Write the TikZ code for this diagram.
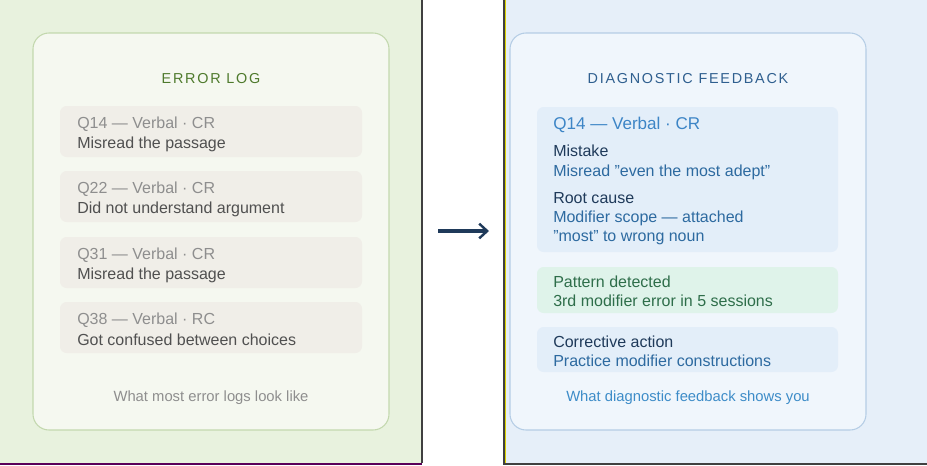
\documentclass[tikz,border=0pt]{standalone}
\usepackage{fontspec}
\usetikzlibrary{arrows.meta}
\setmainfont{Liberation Sans}
\begin{document}
\begin{tikzpicture}[x=0.75pt,y=-0.75pt,
  card/.style={rounded corners=12pt,line width=0.8pt},
  entry/.style={rounded corners=5pt,draw=none},
  t1/.style={anchor=west,font=\fontsize{12}{14}\selectfont,inner sep=0},
  title/.style={font=\fontsize{10.8}{12}\selectfont\addfontfeature{LetterSpace=12},inner sep=0},
  foot/.style={font=\fontsize{11.1}{13}\selectfont,inner sep=0}]
\definecolor{lbg}{HTML}{E8F2DE}\definecolor{rbg}{HTML}{E6EFF9}
\definecolor{lcard}{HTML}{F5F8F0}\definecolor{lbord}{HTML}{C3D8AE}
\definecolor{rcard}{HTML}{F0F6FC}\definecolor{rbord}{HTML}{B5CDE5}
\definecolor{ent}{HTML}{F0EEE8}\definecolor{lgray}{HTML}{8E8E8E}\definecolor{dgray}{HTML}{505050}
\definecolor{ltitle}{HTML}{4E7A2C}\definecolor{rtitle}{HTML}{2F5F8F}
\definecolor{bbox}{HTML}{E3EEF9}\definecolor{gbox}{HTML}{DFF3EA}
\definecolor{navy}{HTML}{1F3A5A}\definecolor{mblue}{HTML}{2D6AA0}\definecolor{qblue}{HTML}{3D85C6}
\definecolor{gdark}{HTML}{2E6E4A}\definecolor{fblue}{HTML}{3D8CC8}
\useasboundingbox (0,0) rectangle (927,465);
\fill[white] (0,0) rectangle (927,465);
\fill[lbg] (0,0) rectangle (422,463);
\draw[black!75,line width=0.8pt] (422,0) -- (422,463);
\draw[violet!70!black,line width=1.2pt] (0,464) -- (422,464);
\fill[rbg] (504,0) rectangle (927,463);
\draw[black!75,line width=0.8pt] (504,0) -- (504,464) -- (927,464);
\draw[yellow!70!olive,line width=0.6pt] (505.5,0) -- (505.5,463);
% left card
\draw[card,fill=lcard,draw=lbord] (33,33) rectangle (389,430);
\node[title,text=ltitle] (lt) at (211,79) {ERROR LOG};
\foreach \y/\a/\b [count=\i] in {106/Q14 — Verbal · CR/Misread the passage,171/Q22 — Verbal · CR/Did not understand argument,237/Q31 — Verbal · CR/Misread the passage,302/Q38 — Verbal · RC/Got confused between choices}{
  \fill[entry,ent] (60,\y) rectangle (362,\y+51);
  \node[t1,text=lgray] (e\i a) at (77,\y+18) {\a};
  \node[t1,text=dgray] (e\i b) at (77,\y+38) {\b};
}
\node[foot,text=lgray] (lf) at (211,398) {What most error logs look like};
% arrow
\coordinate (as) at (438,231); \coordinate (ae) at (489,231);
\draw[navy,line width=2.6pt,-{Straight Barb[length=6pt,width=11pt,line width=1.8pt]}] (as) -- (ae);
% right card
\draw[card,fill=rcard,draw=rbord] (510,33) rectangle (866,430);
\node[title,text=rtitle] (rt) at (688,79) {DIAGNOSTIC FEEDBACK};
\fill[entry,bbox] (537,107) rectangle (838,252);
\node[t1,text=qblue,font=\fontsize{12.8}{14}\selectfont] (q) at (553,125) {Q14 — Verbal · CR};
\node[t1,text=navy] (m1) at (553,151) {Mistake};
\node[t1,text=mblue] (m2) at (553,172) {Misread "even the most adept"};
\node[t1,text=navy] (r1) at (553,198) {Root cause};
\node[t1,text=mblue] (r2) at (553,218) {Modifier scope — attached};
\node[t1,text=mblue] (r3) at (553,238) {"most" to wrong noun};
\fill[entry,gbox] (537,267) rectangle (838,313);
\node[t1,text=gdark] (p1) at (553,282) {Pattern detected};
\node[t1,text=gdark] (p2) at (553,301) {3rd modifier error in 5 sessions};
\fill[entry,bbox] (537,327) rectangle (838,372);
\node[t1,text=navy] (c1) at (553,342) {Corrective action};
\node[t1,text=mblue] (c2) at (553,361) {Practice modifier constructions};
\node[foot,text=fblue] (rf) at (688,398) {What diagnostic feedback shows you};
\end{tikzpicture}
\end{document}
